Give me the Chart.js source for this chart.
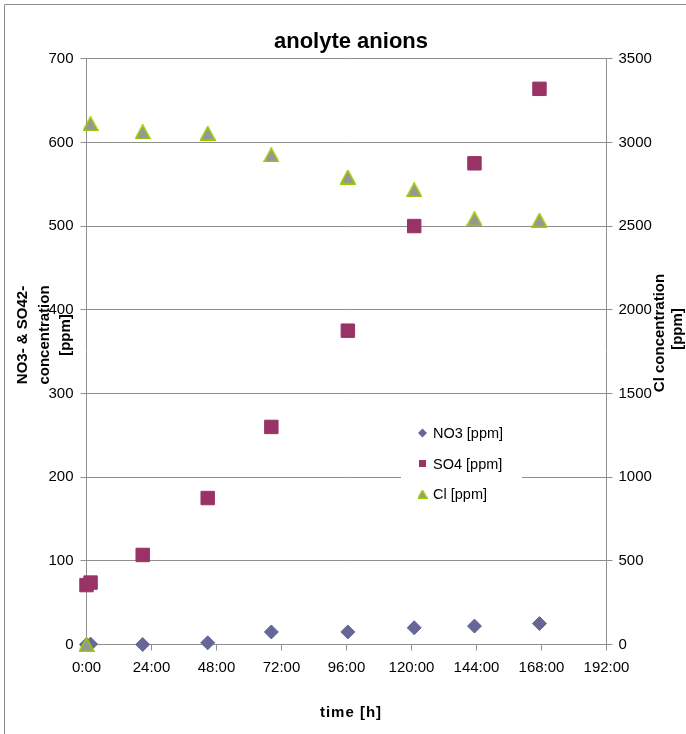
<!DOCTYPE html>
<html>
<head>
<meta charset="utf-8">
<script src="https://cdn.jsdelivr.net/npm/chart.js@4/dist/chart.umd.min.js"></script>
<style>
  html, body { margin: 0; padding: 0; background: #ffffff; }
  #wrap { width: 686px; height: 734px; position: relative; }
</style>
</head>
<body>
<div id="wrap"><canvas id="chart" width="686" height="734"></canvas></div>
<script>
// Sampling times in hours and measured anion concentrations
const sampleHours = [0, 1.5, 20.75, 44.75, 68.25, 96.5, 121, 143.25, 167.25];
const no3Ppm = [0, 0.5, 0, 2, 15, 15, 20, 22, 25];
const so4Ppm = [71, 74, 107, 175, 260, 375, 500, 575, 664];
const clPpm  = [0, 3112, 3063, 3054, 2925, 2793, 2717, 2544, 2535];

const seriesNames = ['NO3 [ppm]', 'SO4 [ppm]', 'Cl [ppm]'];
const xTickLabels = ['0:00', '24:00', '48:00', '72:00', '96:00', '120:00', '144:00', '168:00', '192:00'];

const FONT = "'Liberation Sans', Arial, sans-serif";
const GRID = '#8f8f8f';

function toPoints(xs, ys) {
  return xs.map((x, i) => ({ x: x, y: ys[i] }));
}

// Triangle marker: grey fill with a green outline, centred on its bounding box
function triangleMarker(w, h, lw) {
  const c = document.createElement('canvas');
  c.width = w; c.height = h;
  const g = c.getContext('2d');
  g.beginPath();
  g.moveTo(w / 2, lw / 2);
  g.lineTo(w - lw / 2, h - lw / 2);
  g.lineTo(lw / 2, h - lw / 2);
  g.closePath();
  g.fillStyle = '#969696';
  g.fill();
  g.lineWidth = lw;
  g.lineJoin = 'miter';
  g.strokeStyle = '#99cc00';
  g.stroke();
  return c;
}
const triBig = triangleMarker(16, 15, 1.6);
const triSmall = triangleMarker(10, 9, 1.3);

// Frame, titles and legend drawn on top of the chart
const decor = {
  id: 'decor',
  afterDraw(chart) {
    const ctx = chart.ctx;
    ctx.save();

    // outer frame
    ctx.strokeStyle = '#8c8c8c';
    ctx.lineWidth = 1;
    ctx.beginPath();
    ctx.moveTo(4.5, 740);
    ctx.lineTo(4.5, 4.5);
    ctx.lineTo(690, 4.5);
    ctx.stroke();

    ctx.fillStyle = '#000000';
    ctx.textAlign = 'center';
    ctx.textBaseline = 'alphabetic';

    // chart title
    ctx.font = 'bold 22px ' + FONT;
    ctx.fillText('anolyte anions', 351, 48);

    // x axis title
    ctx.font = 'bold 15px ' + FONT;
    try { ctx.letterSpacing = '1px'; } catch (e) {}
    ctx.fillText('time [h]', 351, 717);
    try { ctx.letterSpacing = '0px'; } catch (e) {}

    // left axis title
    const leftLines = ['NO3- & SO42-', 'concentration', '[ppm]'];
    const leftBase = [26.5, 48.5, 70];
    leftLines.forEach((t, i) => {
      ctx.save();
      ctx.translate(leftBase[i], 335);
      ctx.rotate(-Math.PI / 2);
      ctx.fillText(t, 0, 0);
      ctx.restore();
    });

    // right axis title
    const rightLines = ['Cl concentration', '[ppm]'];
    const rightBase = [663.5, 682];
    const rightMid = [333, 329];
    rightLines.forEach((t, i) => {
      ctx.save();
      ctx.translate(rightBase[i], rightMid[i]);
      ctx.rotate(-Math.PI / 2);
      ctx.fillText(t, 0, 0);
      ctx.restore();
    });

    // legend
    ctx.fillStyle = '#ffffff';
    ctx.fillRect(401, 416, 121, 94);
    const rows = [433, 463.5, 494];
    const ds = chart.data.datasets;
    ctx.font = '14.5px ' + FONT;
    ctx.textAlign = 'left';
    ctx.textBaseline = 'middle';
    ds.forEach((d, i) => {
      const y = rows[i];
      const mx = 422.5;
      ctx.fillStyle = d.backgroundColor;
      if (i === 0) {
        ctx.beginPath();
        ctx.moveTo(mx - 4.5, y); ctx.lineTo(mx, y - 4.5);
        ctx.lineTo(mx + 4.5, y); ctx.lineTo(mx, y + 4.5);
        ctx.closePath(); ctx.fill();
      } else if (i === 1) {
        ctx.fillRect(mx - 3.5, y - 3.5, 7, 7);
      } else {
        ctx.drawImage(triSmall, mx - 5, y - 4.5);
      }
      ctx.fillStyle = '#000000';
      ctx.fillText(d.label, 433, y + 1);
    });

    ctx.restore();
  }
};

new Chart(document.getElementById('chart'), {
  type: 'scatter',
  data: {
    datasets: [
      {
        label: seriesNames[0],
        data: toPoints(sampleHours, no3Ppm),
        yAxisID: 'y',
        clip: false,
        pointStyle: 'rectRot',
        pointRadius: 7,
        pointHoverRadius: 7,
        backgroundColor: '#666699',
        borderColor: '#666699',
        borderWidth: 1,
        order: 3
      },
      {
        label: seriesNames[1],
        data: toPoints(sampleHours, so4Ppm),
        yAxisID: 'y',
        clip: false,
        pointStyle: 'rect',
        pointRadius: 9.5,
        pointHoverRadius: 9.5,
        backgroundColor: '#993366',
        borderColor: '#993366',
        borderWidth: 1,
        order: 2
      },
      {
        label: seriesNames[2],
        data: toPoints(sampleHours, clPpm),
        yAxisID: 'y2',
        clip: false,
        pointStyle: triBig,
        pointRadius: 8,
        backgroundColor: '#969696',
        borderColor: '#99cc00',
        order: 1
      }
    ]
  },
  options: {
    responsive: false,
    devicePixelRatio: 1,
    animation: false,
    events: [],
    layout: { padding: { top: 58.7, left: 0, right: 0, bottom: 0 } },
    plugins: {
      legend: { display: false },
      title: { display: false },
      tooltip: { enabled: false }
    },
    scales: {
      x: {
        type: 'linear',
        min: 0,
        max: 192,
        afterFit(s) { s.height = 89.5; },
        afterBuildTicks(s) { s.ticks = xTickLabels.map((_, i) => ({ value: i * 24 })); },
        ticks: {
          autoSkip: false,
          maxRotation: 0,
          padding: 8,
          color: '#000000',
          font: { family: FONT, size: 15 },
          callback: (v, i) => xTickLabels[i]
        },
        grid: { drawOnChartArea: false, drawTicks: true, tickLength: 6, color: GRID },
        border: { display: true, color: GRID, width: 1 }
      },
      y: {
        position: 'left',
        min: 0,
        max: 700,
        afterFit(s) { s.width = 86.5; },
        ticks: {
          stepSize: 100,
          padding: 7,
          color: '#000000',
          font: { family: FONT, size: 15 },
          callback: (v) => String(v)
        },
        grid: { color: GRID, lineWidth: 1, tickLength: 6 },
        border: { display: true, color: GRID, width: 1 }
      },
      y2: {
        position: 'right',
        min: 0,
        max: 3500,
        afterFit(s) { s.width = 79.5; },
        ticks: {
          stepSize: 500,
          padding: 6,
          color: '#000000',
          font: { family: FONT, size: 15 },
          callback: (v) => String(v)
        },
        grid: { drawOnChartArea: false, color: GRID, tickLength: 6 },
        border: { display: true, color: GRID, width: 1 }
      }
    }
  },
  plugins: [decor]
});
</script>
</body>
</html>
